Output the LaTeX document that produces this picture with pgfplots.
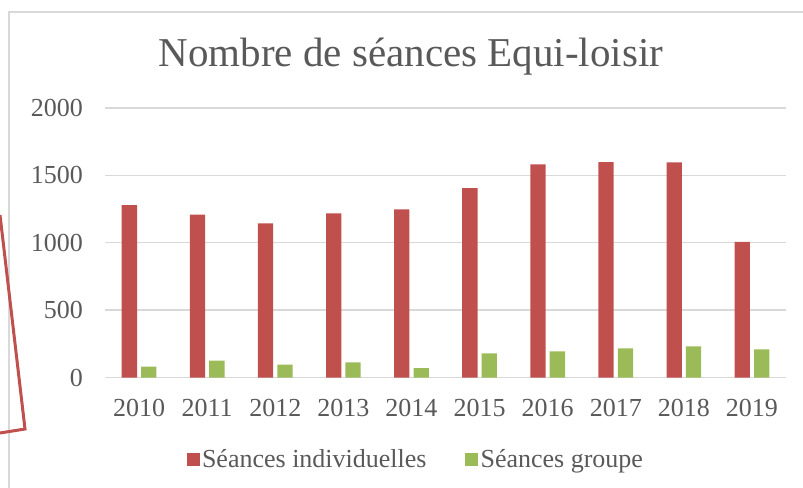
\documentclass[border=0pt]{standalone}
\usepackage{pgfplots}
\pgfplotsset{compat=1.18}
\usepackage{fontspec}
\setmainfont{Liberation Serif}
\definecolor{redbar}{HTML}{C0504D}
\definecolor{greenbar}{HTML}{9BBB59}
\definecolor{gridc}{HTML}{D9D9D9}
\definecolor{txt}{HTML}{595959}
\begin{document}
\begin{tikzpicture}
\useasboundingbox (0bp,0bp) rectangle (803bp,-488bp);
\draw[gridc, line width=1.5bp] (9bp,-488bp) -- (9bp,-12bp) -- (803bp,-12bp);
\draw[redbar, line width=3bp, line join=miter] (0bp,-215bp) -- (25bp,-429bp) -- (0bp,-433bp);
\node[txt, font=\fontsize{41bp}{46bp}\selectfont] at (411bp,-57bp) {Nombre de séances Equi-loisir};
\begin{axis}[
  at={(105bp,-377.5bp)}, anchor=south west,
  scale only axis, width=681bp, height=269.5bp,
  xmin=-0.5, xmax=9.5, ymin=0, ymax=2000,
  xtick={0,...,9},
  xticklabels={2010,2011,2012,2013,2014,2015,2016,2017,2018,2019},
  ytick={0,500,1000,1500,2000},
  /pgf/number format/1000 sep={},
  /pgf/number format/assume math mode=true,
  ymajorgrids, grid style={gridc, line width=1.3bp},
  axis line style={draw=none},
  major tick length=0pt,
  tick label style={txt, font=\fontsize{26bp}{30bp}\selectfont},
  yticklabel style={inner sep=0pt, xshift=-22bp},
  xticklabel style={inner sep=0pt, yshift=-22bp},
  ybar, bar width=15.3bp,
  legend columns=2,
  legend style={at={(0.4567,-0.3024)}, anchor=center, draw=none, fill=none,
    font=\fontsize{26bp}{30bp}\selectfont, text=txt,
    /tikz/every even column/.append style={column sep=36bp},
    nodes={inner sep=2.5bp}},
  legend image code/.code={\fill[#1] (0bp,-6.5bp) rectangle (13bp,6.5bp);},
]
\addplot[fill=redbar, draw=none, bar shift=-9.7bp] coordinates {
 (0,1280) (1,1208) (2,1144) (3,1218) (4,1248) (5,1406) (6,1582) (7,1599) (8,1597) (9,1006)};
\addplot[fill=greenbar, draw=none, bar shift=9.7bp] coordinates {
 (0,80) (1,125) (2,95) (3,113) (4,70) (5,180) (6,194) (7,217) (8,231) (9,209)};
\legend{Séances individuelles, Séances groupe}
\end{axis}
\end{tikzpicture}
\end{document}
